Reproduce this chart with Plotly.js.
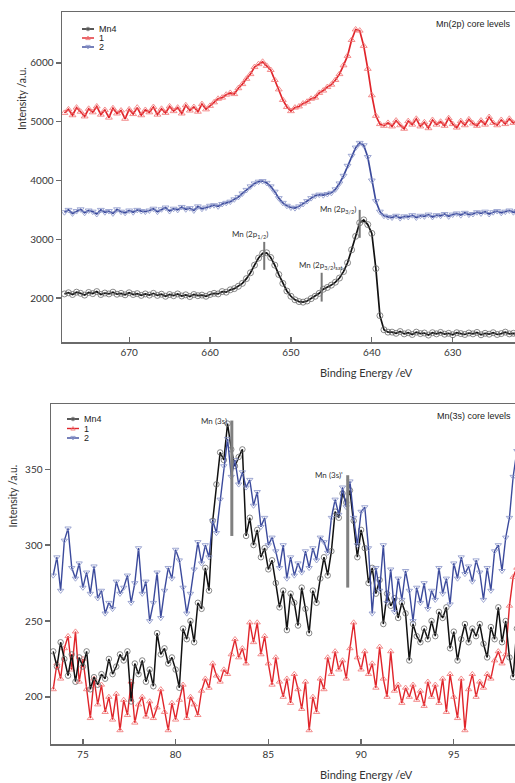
<!DOCTYPE html>
<html>
<head>
<meta charset="utf-8">
<script src="https://cdn.plot.ly/plotly-3.0.1.min.js"></script>
<style>html,body{margin:0;padding:0;background:#fff;}#chart{width:515px;height:783px;}</style>
</head>
<body>
<div id="chart"></div>
<script>
// ---------- Mn(2p) panel data ----------
const energy2p = [678,677.5,677,676.5,676,675.5,675,674.5,674,673.5,673,672.5,672,671.5,671,670.5,670,669.5,669,668.5,668,
667.5,667,666.5,666,665.5,665,664.5,664,663.5,663,662.5,662,661.5,661,660.5,660,
659.5,659,658.5,658,657.5,657,656.5,656,655.5,655,654.5,654,653.5,653,652.5,652,651.5,651,650.5,650,649.5,649,648.5,648,647.5,647,646.5,646,645.5,645,644.5,644,643.5,643,642.5,642,641.5,641,640.5,640,639.5,639,638.5,638,
637.5,637,636.5,636,635.5,635,634.5,634,633.5,633,632.5,632,631.5,631,630.5,630,629.5,629,628.5,628,627.5,627,626.5,626,625.5,625,624.5,624,623.5,623,622.5,622];

const mn4_2p = [2070,2090,2060,2100,2080,2050,2095,2075,2110,2060,2085,2070,2100,2065,2080,2055,2090,2060,2075,2045,2070,
2050,2080,2045,2065,2030,2060,2040,2070,2035,2055,2025,2060,2040,2050,2030,2060,
2080,2070,2110,2100,2140,2160,2200,2250,2330,2430,2560,2680,2760,2770,2690,2560,2400,2250,2120,2030,1970,1940,1930,1950,1990,2030,2080,2150,2180,2220,2270,2340,2450,2600,2820,3050,3280,3330,3250,3100,2500,1700,1460,1420,
1420,1400,1430,1390,1410,1380,1420,1395,1405,1370,1410,1390,1415,1385,1400,1375,1410,1395,1380,1405,1390,1415,1375,1400,1385,1410,1380,1395,1420,1390,1400,1385];

const s1_2p = [5150,5210,5110,5240,5170,5090,5220,5160,5260,5120,5200,5070,5230,5140,5190,5050,5210,5130,5240,5110,5200,
5160,5250,5120,5220,5150,5260,5180,5240,5140,5280,5190,5250,5170,5300,5210,5270,
5330,5390,5410,5460,5490,5470,5570,5640,5730,5810,5930,5980,6020,5950,5880,5710,5550,5370,5250,5180,5240,5260,5310,5340,5390,5410,5490,5530,5590,5630,5710,5810,5960,6120,6390,6570,6550,6290,5900,5450,5100,4960,4930,4980,
4920,5020,4940,4880,5010,4950,5050,4920,4990,4890,5030,4950,5000,4930,5060,4960,4900,5010,4940,5040,4970,4930,5020,4950,5080,4980,4940,5030,4960,5050,4980,5010];

const s2_2p = [3460,3500,3440,3480,3510,3450,3490,3470,3430,3500,3460,3480,3440,3510,3470,3450,3490,3460,3500,3480,3470,
3490,3520,3470,3510,3540,3480,3520,3500,3550,3510,3530,3490,3560,3520,3540,3570,
3580,3560,3600,3620,3640,3680,3720,3780,3840,3900,3950,3980,3990,3960,3900,3810,3700,3620,3570,3540,3530,3560,3600,3650,3700,3740,3760,3750,3770,3790,3850,3950,4080,4250,4420,4560,4640,4600,4400,4000,3650,3470,3400,3380,
3370,3400,3360,3390,3380,3410,3370,3400,3390,3420,3380,3410,3400,3430,3390,3420,3440,3410,3450,3420,3430,3460,3440,3470,3430,3460,3480,3450,3470,3490,3460,3480];

const peakE2p = [653.3, 646.2, 641.5];
const peakLo2p = [2480, 1940, 3025];
const peakHi2p = [2955, 2430, 3500];
const peakText2p = ['Mn (2p<sub>1/2</sub>)', 'Mn (2p<sub>3/2</sub>)<sub>sat</sub>', 'Mn (2p<sub>3/2</sub>)'];

const xTicks2p = [670, 660, 650, 640, 630];
const yTicks2p = [2000, 3000, 4000, 5000, 6000];

// ---------- Mn(3s) panel data ----------
const energy3s = [73.4,73.6,73.8,74,74.2,74.4,74.6,74.8,75,75.2,75.4,75.6,75.8,76,76.2,76.4,76.6,76.8,77,77.2,77.4,77.6,77.8,78,78.2,78.4,78.6,78.8,79,79.2,79.4,79.6,79.8,80,80.2,80.4,80.6,80.8,81,81.2,81.4,81.6,81.8,82,82.2,82.4,82.6,82.8,83,83.2,83.4,83.6,83.8,84,84.2,84.4,84.6,84.8,85,85.2,85.4,85.6,85.8,86,86.2,86.4,86.6,86.8,87,87.2,87.4,87.6,87.8,88,88.2,88.4,88.6,88.8,89,89.2,89.4,89.6,89.8,90,90.2,90.4,90.6,90.8,91,91.2,91.4,91.6,91.8,92,92.2,92.4,92.6,92.8,93,93.2,93.4,93.6,93.8,94,94.2,94.4,94.6,94.8,95,95.2,95.4,95.6,95.8,96,96.2,96.4,96.6,96.8,97,97.2,97.4,97.6,97.8,98,98.2,98.4];

const mn4_3s = [230,220,236,225, 214,228,210,226,220, 230,205,213,208,215, 212,225,215,220,228, 224,230,197,222,215,
224,210,218,207,242, 228,232,222,226,218, 206,245,238,250,236, 262,258,285,270,316, 340,361,356,380,363,
352,358,363,306,318, 300,310,292,298,284, 290,275,259,270,244, 268,262,247,272,258, 242,270,262,278,292,
280,296,322,318,334, 328,336,316,292,310, 298,275,285,268,277, 248,268,260,265,252, 262,255,224,248,240,
236,245,238,250,240, 256,252,259,232,243, 224,238,248,236,245, 240,248,235,226,246, 238,259,236,250,226, 213,245];

const s1_3s = [205,222,212,232, 240,218,243,210,225, 205,186,212,195,208, 190,200,185,202,178, 198,188,210,183,195,
200,187,197,186,193, 205,190,178,196,185, 198,208,186,200,195, 188,204,212,206,222, 214,210,218,215,228,
238,226,232,222,249, 236,249,228,240,222, 208,226,210,200,212, 196,215,205,192,210, 178,200,190,212,205,
226,215,230,218,224, 212,232,249,226,218, 230,215,222,206,233, 212,200,230,204,208, 196,206,200,208,198,
204,194,210,200,208, 196,212,190,215,200, 186,212,178,205,215, 200,210,206,215,212, 224,230,222,228,260, 279,285];

const s2_3s = [280,292,270,303, 311,285,278,288,272, 282,268,286,265,270, 255,262,258,276,268, 272,280,262,275,298,
268,276,250,262,282, 252,270,285,278,297, 290,272,255,268,284, 302,288,300,292,316, 308,330,352,370,345,
356,340,348,338,343, 326,335,312,318,300, 305,296,285,300,278, 292,280,288,282,296, 285,298,290,305,302,
295,318,330,320,338, 325,342,318,300,322, 325,298,255,285,270, 300,262,284,256,278, 264,283,270,250,272,
262,275,258,270,264, 285,268,278,261,288, 278,292,281,286,276, 290,282,264,285,270, 296,300,283,305,318, 345,362];

const peakE3s = [83.03, 89.28];
const peakLo3s = [306, 272];
const peakHi3s = [382, 346];
const peakText3s = ['Mn (3s)', "Mn (3s)'"];

const xTicks3s = [75, 80, 85, 90, 95];
const yTicks3s = [200, 250, 300, 350];

const seriesNames = ['Mn4', '1', '2'];

// ---------- styles ----------
const W = 515, H = 783;
const lineColors = ['#111111', '#e0242a', '#3b4a9c'];
const markColors = ['#6a6a6a', '#f07272', '#8893c8'];
const symbols = ['circle-open', 'triangle-up-open', 'triangle-down-open'];
const tickFont = {family: 'Lato, "Open Sans", sans-serif', size: 10, color: '#333'};
const axisColor = '#6a6a6a';

function mkTrace(x, y, k, xa, ya, lw, ms) {
  return {
    x: x, y: y, type: 'scatter', mode: 'lines+markers', name: seriesNames[k],
    xaxis: xa, yaxis: ya, showlegend: false,
    line: {color: lineColors[k], width: lw},
    marker: {symbol: symbols[k], size: ms, color: markColors[k], line: {width: 0.8, color: markColors[k]}}
  };
}

const traces = [
  mkTrace(energy2p, s1_2p, 1, 'x', 'y', 1.7, 6),
  mkTrace(energy2p, s2_2p, 2, 'x', 'y', 1.7, 6),
  mkTrace(energy2p, mn4_2p, 0, 'x', 'y', 1.7, 6),
  mkTrace(energy3s, s1_3s, 1, 'x2', 'y2', 1.4, 5.5),
  mkTrace(energy3s, mn4_3s, 0, 'x2', 'y2', 1.5, 5.5),
  mkTrace(energy3s, s2_3s, 2, 'x2', 'y2', 1.4, 5.5)
];

const px = v => v / W;
const py = v => 1 - v / H;

const shapes = [];
const annotations = [];

// peak marker bars
peakE2p.forEach((e, i) => {
  shapes.push({type: 'line', xref: 'x', yref: 'y', x0: e, x1: e, y0: peakLo2p[i], y1: peakHi2p[i],
    line: {color: '#777', width: 2}});
});
peakE3s.forEach((e, i) => {
  shapes.push({type: 'line', xref: 'x2', yref: 'y2', x0: e, x1: e, y0: peakLo3s[i], y1: peakHi3s[i],
    line: {color: '#808080', width: 3}});
});
const lblFont = {family: 'Lato, "Open Sans", sans-serif', size: 8, color: '#333'};
// 2p labels
annotations.push({xref: 'x', yref: 'y', x: peakE2p[0], y: peakHi2p[0], text: peakText2p[0], showarrow: false,
  xanchor: 'right', yanchor: 'bottom', xshift: 6, yshift: 0, font: lblFont});
annotations.push({xref: 'x', yref: 'y', x: peakE2p[1], y: peakHi2p[1], text: peakText2p[1], showarrow: false,
  xanchor: 'center', yanchor: 'bottom', xshift: -1, yshift: 0, font: lblFont});
annotations.push({xref: 'x', yref: 'y', x: peakE2p[2], y: peakHi2p[2], text: peakText2p[2], showarrow: false,
  xanchor: 'right', yanchor: 'middle', xshift: -2, yshift: 0, font: lblFont});
// 3s labels
peakE3s.forEach((e, i) => {
  annotations.push({xref: 'x2', yref: 'y2', x: e, y: peakHi3s[i], text: peakText3s[i], showarrow: false,
    xanchor: 'right', yanchor: 'middle', xshift: -3, font: lblFont});
});

// panel tags
const tagFont = {family: '"Liberation Sans", Arial, sans-serif', size: 9, color: '#222'};
annotations.push({xref: 'paper', yref: 'paper', x: px(513), y: py(24), text: 'Mn(2p) core levels', showarrow: false,
  xanchor: 'right', yanchor: 'middle', font: tagFont});
annotations.push({xref: 'paper', yref: 'paper', x: px(513), y: py(416), text: 'Mn(3s) core levels', showarrow: false,
  xanchor: 'right', yanchor: 'middle', font: tagFont});

// axis titles
const titleFont = {family: 'Lato, "Open Sans", sans-serif', size: 11, color: '#333'};
annotations.push({xref: 'paper', yref: 'paper', x: px(366), y: py(372), text: 'Binding Energy /eV', showarrow: false,
  xanchor: 'center', yanchor: 'middle', font: titleFont});
annotations.push({xref: 'paper', yref: 'paper', x: px(366), y: py(774), text: 'Binding Energy /eV', showarrow: false,
  xanchor: 'center', yanchor: 'middle', font: titleFont});
annotations.push({xref: 'paper', yref: 'paper', x: px(22), y: py(99), text: 'Intensity /a.u.', showarrow: false,
  textangle: -90, xanchor: 'center', yanchor: 'middle', font: {family: titleFont.family, size: 10.5, color: '#333'}});
annotations.push({xref: 'paper', yref: 'paper', x: px(12.5), y: py(496), text: 'Intensity /a.u.', showarrow: false,
  textangle: -90, xanchor: 'center', yanchor: 'middle', font: {family: titleFont.family, size: 10.5, color: '#333'}});

// custom compact legends
function addLegend(x0, yRows) {
  seriesNames.forEach((nm, k) => {
    const y = yRows[k];
    shapes.push({type: 'line', xref: 'paper', yref: 'paper', x0: px(x0), x1: px(x0 + 12), y0: py(y), y1: py(y),
      line: {color: lineColors[k], width: 1.4}});
    const cx = x0 + 6;
    let path;
    if (k === 0) {
      shapes.push({type: 'circle', xref: 'paper', yref: 'paper', x0: px(cx - 1.8), x1: px(cx + 1.8), y0: py(y + 1.8), y1: py(y - 1.8),
        line: {color: markColors[k], width: 0.8}});
    } else if (k === 1) {
      path = `M ${px(cx - 2.2)} ${py(y + 1.6)} L ${px(cx + 2.2)} ${py(y + 1.6)} L ${px(cx)} ${py(y - 2)} Z`;
      shapes.push({type: 'path', xref: 'paper', yref: 'paper', path: path, line: {color: markColors[k], width: 0.8}});
    } else {
      path = `M ${px(cx - 2.2)} ${py(y - 1.6)} L ${px(cx + 2.2)} ${py(y - 1.6)} L ${px(cx)} ${py(y + 2)} Z`;
      shapes.push({type: 'path', xref: 'paper', yref: 'paper', path: path, line: {color: markColors[k], width: 0.8}});
    }
    annotations.push({xref: 'paper', yref: 'paper', x: px(x0 + 15), y: py(y), text: nm, showarrow: false,
      xanchor: 'left', yanchor: 'middle', font: {family: '"Liberation Sans", Arial, sans-serif', size: 9, color: '#222'}});
  });
}
addLegend(82, [29, 38, 47]);
addLegend(67, [419, 428.5, 438]);

function xAxis(range, ticks, domain, anchor) {
  return {domain: domain, anchor: anchor, range: range, autorange: false,
    tickvals: ticks, ticktext: ticks.map(String), ticks: 'inside', ticklen: 5, tickwidth: 1.2, tickcolor: axisColor,
    showline: true, linecolor: axisColor, linewidth: 1.5, mirror: true, showgrid: false, zeroline: false,
    tickfont: tickFont};
}
function yAxis(range, ticks, domain, anchor) {
  return {domain: domain, anchor: anchor, range: range, autorange: false,
    tickvals: ticks, ticktext: ticks.map(String), ticks: 'outside', ticklen: 5, tickwidth: 1.2, tickcolor: axisColor,
    showline: true, linecolor: axisColor, linewidth: 1.5, mirror: false, showgrid: false, zeroline: false,
    tickfont: tickFont};
}

const layout = {
  width: W, height: H,
  margin: {l: 0, r: 0, t: 0, b: 0},
  paper_bgcolor: '#ffffff', plot_bgcolor: '#ffffff',
  showlegend: false,
  xaxis: xAxis([678.3, 622.3], xTicks2p, [px(62), 1], 'y'),
  yaxis: yAxis([1252, 6867], yTicks2p, [py(342), py(12)], 'x'),
  xaxis2: xAxis([73.28, 98.3], xTicks3s, [px(51), 1], 'y2'),
  yaxis2: yAxis([169, 392.9], yTicks3s, [py(744), py(404)], 'x2'),
  shapes: shapes,
  annotations: annotations
};

Plotly.newPlot('chart', traces, layout, {staticPlot: true, displayModeBar: false});
</script>
</body>
</html>
